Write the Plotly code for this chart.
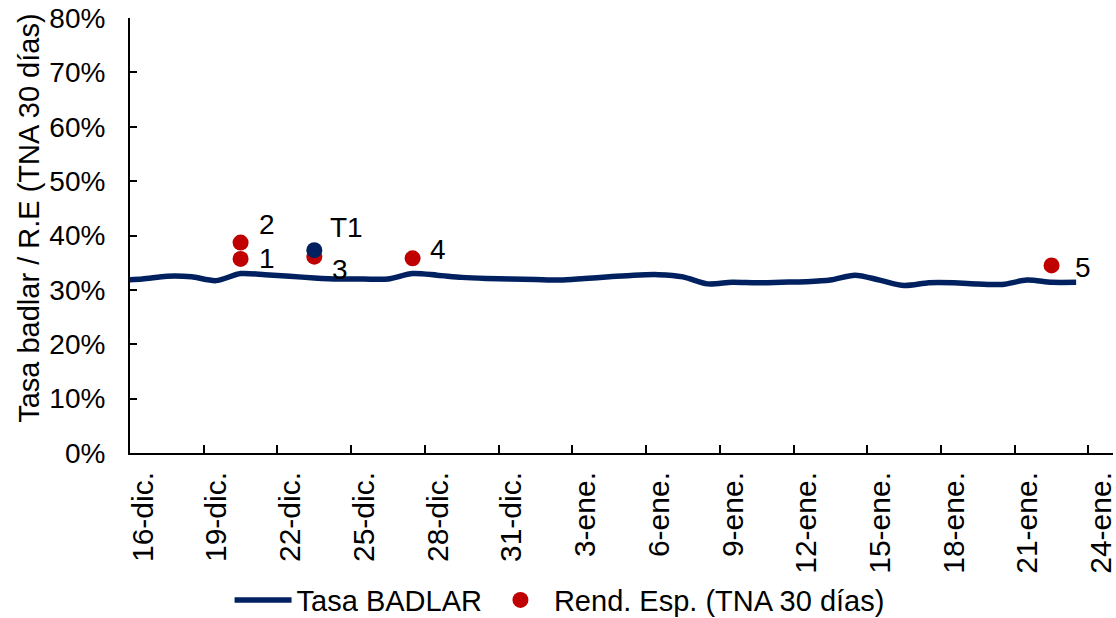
import pandas as pd
import plotly.graph_objects as go

# ---- data ----
badlar_dates = ["2017-12-15", "2017-12-16", "2017-12-17", "2017-12-18", "2017-12-19", "2017-12-20",
                "2017-12-21", "2017-12-22", "2017-12-23", "2017-12-24", "2017-12-25", "2017-12-26",
                "2017-12-27", "2017-12-28", "2017-12-29", "2017-12-30", "2017-12-31", "2018-01-01",
                "2018-01-02", "2018-01-03", "2018-01-04", "2018-01-05", "2018-01-06", "2018-01-07",
                "2018-01-08", "2018-01-09", "2018-01-10", "2018-01-11", "2018-01-12", "2018-01-13",
                "2018-01-14", "2018-01-15", "2018-01-16", "2018-01-17", "2018-01-18", "2018-01-19",
                "2018-01-20", "2018-01-21", "2018-01-22", "2018-01-23"]
badlar_values = [31.8, 32.0, 32.5, 32.4, 31.7, 33.0,
                 32.8, 32.5, 32.2, 32.0, 32.0, 32.0,
                 33.0, 32.7, 32.3, 32.1, 32.0, 31.9,
                 31.8, 32.1, 32.4, 32.7, 32.8, 32.4,
                 31.1, 31.4, 31.3, 31.4, 31.5, 31.8,
                 32.7, 31.8, 30.8, 31.3, 31.3, 31.1,
                 31.0, 31.8, 31.4, 31.4]

rend_labels = ["1", "2", "3", "4", "5"]
rend_dates = ["2017-12-20", "2017-12-20", "2017-12-23", "2017-12-27", "2018-01-22"]
rend_values = [35.7, 38.7, 36.1, 35.8, 34.5]

t1_label = ["T1"]
t1_dates = ["2017-12-23"]
t1_values = [37.3]

tick_dates = ["2017-12-16", "2017-12-19", "2017-12-22", "2017-12-25", "2017-12-28", "2017-12-31",
              "2018-01-03", "2018-01-06", "2018-01-09", "2018-01-12", "2018-01-15", "2018-01-18",
              "2018-01-21", "2018-01-24"]
tick_labels = ["16-dic.", "19-dic.", "22-dic.", "25-dic.", "28-dic.", "31-dic.",
               "3-ene.", "6-ene.", "9-ene.", "12-ene.", "15-ene.", "18-ene.",
               "21-ene.", "24-ene."]
y_ticks = [0, 10, 20, 30, 40, 50, 60, 70, 80]
y_tick_labels = ["0%", "10%", "20%", "30%", "40%", "50%", "60%", "70%", "80%"]

# ---- styling ----
NAVY = "#002060"
RED = "#C00000"
FONT = "Arial, Liberation Sans, sans-serif"
FS = 30

half_day = pd.Timedelta(hours=12)  # points sit at the centre of each day
bx = pd.to_datetime(badlar_dates) + half_day
rx = pd.to_datetime(rend_dates) + half_day
tx = pd.to_datetime(t1_dates) + half_day

fig = go.Figure()
fig.add_trace(go.Scatter(x=bx, y=badlar_values, mode="lines", name="Tasa BADLAR",
                         line=dict(color=NAVY, width=5.5, shape="spline", smoothing=0.8)))
fig.add_trace(go.Scatter(x=rx, y=rend_values, mode="markers", name="Rend. Esp. (TNA 30 días)",
                         marker=dict(color=RED, size=16, line=dict(width=0))))
fig.add_trace(go.Scatter(x=tx, y=t1_values, mode="markers", name="T1", showlegend=False,
                         marker=dict(color=NAVY, size=16, line=dict(width=0))))

# point labels
offsets = {"1": (26, 0), "2": (26, 18), "3": (26, -13), "4": (25, 9), "5": (31, -2)}
for lab, d, v in zip(rend_labels, rx, rend_values):
    dx, dy = offsets[lab]
    fig.add_annotation(x=d, y=v, xref="x", yref="y", text=lab, showarrow=False,
                       xshift=dx, yshift=dy, font=dict(size=FS - 2, color="black", family=FONT))
for lab, d, v in zip(t1_label, tx, t1_values):
    fig.add_annotation(x=d, y=v, xref="x", yref="y", text=lab, showarrow=False,
                       xshift=32, yshift=23, font=dict(size=FS - 2, color="black", family=FONT))

# y-axis title
fig.add_annotation(text="Tasa badlar / R.E (TNA 30 días)", xref="paper", yref="paper",
                   x=-0.103, y=0.54, textangle=-90, showarrow=False,
                   xanchor="center", yanchor="middle",
                   font=dict(size=29, color="black", family=FONT))

fig.update_layout(
    width=1116, height=618,
    margin=dict(l=130, r=3, t=18, b=165),
    paper_bgcolor="white", plot_bgcolor="white",
    font=dict(family=FONT, size=FS, color="black"),
    showlegend=True,
    legend=dict(orientation="h", x=0.437, xref="paper", y=0.029, yref="container",
                xanchor="center", yanchor="middle",
                font=dict(size=29, family=FONT), bgcolor="rgba(0,0,0,0)", itemwidth=57),
    xaxis=dict(type="date", range=["2017-12-16", "2018-01-25"], automargin=False,
               tickvals=pd.to_datetime(tick_dates), ticktext=tick_labels,
               tickangle=-90, ticks="inside", ticklen=8, tickwidth=2, tickcolor="black",
               showline=True, linecolor="black", linewidth=2, showgrid=False, zeroline=False,
               ticklabelshift=13, ticklabelstandoff=5, ticklabeloverflow="allow",
               tickfont=dict(size=FS, family=FONT, color="black")),
    yaxis=dict(range=[0, 80], tickvals=y_ticks, ticktext=y_tick_labels, automargin=False,
               ticks="inside", ticklen=7, tickwidth=2, tickcolor="black",
               showline=True, linecolor="black", linewidth=2, showgrid=False, zeroline=False,
               ticklabelstandoff=17, ticklabeloverflow="allow",
               tickfont=dict(size=28, family=FONT, color="black")),
)

# remove the default 8px page margin so the figure fills the window exactly
fig.write_html("out.html", config={"displayModeBar": False},
               post_script="document.body.style.margin='0';")
